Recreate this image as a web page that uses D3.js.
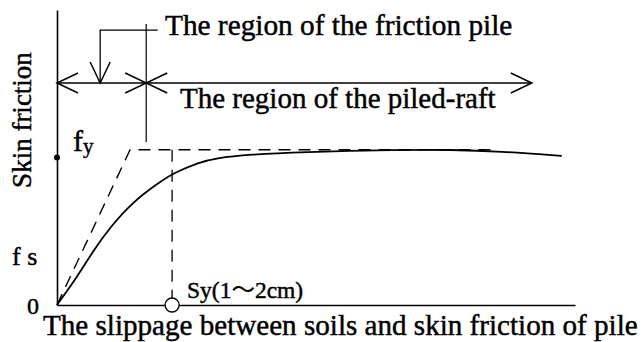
<!DOCTYPE html>
<html>
<head>
<meta charset="utf-8">
<script src="https://cdn.jsdelivr.net/npm/d3@7/dist/d3.min.js"></script>
<style>
  html, body { margin: 0; padding: 0; background: #fff; }
  svg { display: block; }
  text { font-family: "Liberation Serif", "Times New Roman", serif; fill: #000; stroke: #000; stroke-width: 0.45px; }
</style>
</head>
<body>
<svg id="chart" width="643" height="342"></svg>
<script>
// Skin friction vs. slippage (cm) of pile against soil
const slip     = [0, 0.35, 0.63, 0.92, 1.32, 1.74, 2.02, 2.48, 2.74, 3.35, 4.22, 5.96, 6.83, 7.70, 8.77];
const friction = [0, 0.18, 0.35, 0.50, 0.665, 0.78, 0.85, 0.92, 0.945, 0.97, 0.985, 1.00, 1.00, 0.99, 0.96];

// Idealised elastic–perfectly-plastic model (dashed)
const modelSlip     = [0, 1.27, 7.57];
const modelFriction = [0, 1.00, 1.00];

const fy = 1.0;        // yield skin friction
const sy = 2.0;        // yield slippage Sy
const fyMark = 0.95;   // dot on the friction axis

// Region annotation (data units)
const regionBoundary = 1.55;  // friction pile | piled-raft
const regionArrowEnd = 8.25;
const regionLevel    = 1.43;
const leaderSlip     = 0.75;
const leaderLevel    = 1.77;

const svg = d3.select("#chart");
const x = d3.scaleLinear().domain([0, 9]).range([57, 575]);
const y = d3.scaleLinear().domain([0, 1.9]).range([305, 10]);

// Axes: plain lines, no ticks
svg.append("g").attr("transform", `translate(0,${y(0)})`)
  .call(d3.axisBottom(x).tickValues([]).tickSizeOuter(0))
  .select(".domain").attr("stroke", "#000").attr("stroke-width", 1.6);
svg.append("g").attr("transform", `translate(${x(0)},0)`)
  .call(d3.axisLeft(y).tickValues([]).tickSizeOuter(0))
  .select(".domain").attr("stroke", "#000").attr("stroke-width", 1.6);

// Model (dashed)
const line = d3.line().x(d => x(d[0])).y(d => y(d[1]));
svg.append("path")
  .datum(d3.zip(modelSlip, modelFriction))
  .attr("d", line)
  .attr("fill", "none").attr("stroke", "#000").attr("stroke-width", 1.4)
  .attr("stroke-dasharray", "12,8");

// Sy vertical (dashed)
svg.append("path")
  .datum([[sy, fy], [sy, 0]])
  .attr("d", line)
  .attr("fill", "none").attr("stroke", "#000").attr("stroke-width", 1.3)
  .attr("stroke-dasharray", "12,8");

// Measured curve
svg.append("path")
  .datum(d3.zip(slip, friction))
  .attr("d", d3.line().x(d => x(d[0])).y(d => y(d[1])).curve(d3.curveBasis))
  .attr("fill", "none").attr("stroke", "#000").attr("stroke-width", 1.8);

// Sy marker circle on the slippage axis
svg.append("circle").attr("cx", x(sy)).attr("cy", y(0)).attr("r", 7)
  .attr("fill", "#fff").attr("stroke", "#000").attr("stroke-width", 1.3);

// fy dot on the friction axis
svg.append("circle").attr("cx", x(0)).attr("cy", y(fyMark)).attr("r", 3).attr("fill", "#000");

// Region arrows
const stroke = (sel, w) => sel.attr("fill", "none").attr("stroke", "#000").attr("stroke-width", w || 1.4);
const ry = y(regionLevel);
stroke(svg.append("line").attr("x1", x(0)).attr("x2", x(regionArrowEnd)).attr("y1", ry).attr("y2", ry), 1.6);
// arrowheads (open V)
function head(tipX, tipY, dx, dy) {
  // dx,dy: direction from tip back along the shaft, wings spread perpendicular
  const L = 21, W = 10;
  const px = -dy, py = dx;
  stroke(svg.append("polyline").attr("points", [
    [tipX + dx * L + px * W, tipY + dy * L + py * W],
    [tipX, tipY],
    [tipX + dx * L - px * W, tipY + dy * L - py * W]
  ].map(p => p.join(",")).join(" ")), 1.5);
}
head(x(0), ry, 1, 0);
head(x(regionBoundary), ry, -1, 0);
head(x(regionBoundary), ry, 1, 0);
head(x(regionArrowEnd), ry, -1, 0);

// boundary line between the two regions
stroke(svg.append("line").attr("x1", x(regionBoundary)).attr("x2", x(regionBoundary))
  .attr("y1", y(1.81)).attr("y2", y(1.05)), 1.2);

// leader for the friction pile label
const ly = y(leaderLevel);
stroke(svg.append("polyline").attr("points", [
  [x(leaderSlip), ry], [x(leaderSlip), ly], [x(1.75), ly]
].map(p => p.join(",")).join(" ")), 1.3);
head(x(leaderSlip), ry, 0, -1);

// Labels
svg.append("text").attr("x", 165).attr("y", 35).attr("font-size", 29.3)
  .text("The region of the friction pile");
svg.append("text").attr("x", 180).attr("y", 108).attr("font-size", 29)
  .text("The region of the piled-raft");
svg.append("text").attr("transform", "translate(31,120) rotate(-90)")
  .attr("text-anchor", "middle").attr("font-size", 27).text("Skin friction");
const fyLabel = svg.append("text").attr("x", 73).attr("y", 151).attr("font-size", 30);
fyLabel.append("tspan").text("f");
fyLabel.append("tspan").attr("font-size", 21).attr("dy", 2).text("y");
svg.append("text").attr("x", 12).attr("y", 265).attr("font-size", 26).text("f s");
svg.append("text").attr("x", 27).attr("y", 314).attr("font-size", 24).text("0");
const syLabel = svg.append("text").attr("x", 187).attr("y", 298).attr("font-size", 23.5);
syLabel.append("tspan").text("Sy(1");
syLabel.append("tspan").style("font-family", "'Noto Sans CJK JP'").style("stroke-width", "0.2px").text("～");
syLabel.append("tspan").text("2cm)");
svg.append("text").attr("x", 43).attr("y", 335).attr("font-size", 29.1)
  .text("The slippage between soils and skin friction of pile");
</script>
</body>
</html>
